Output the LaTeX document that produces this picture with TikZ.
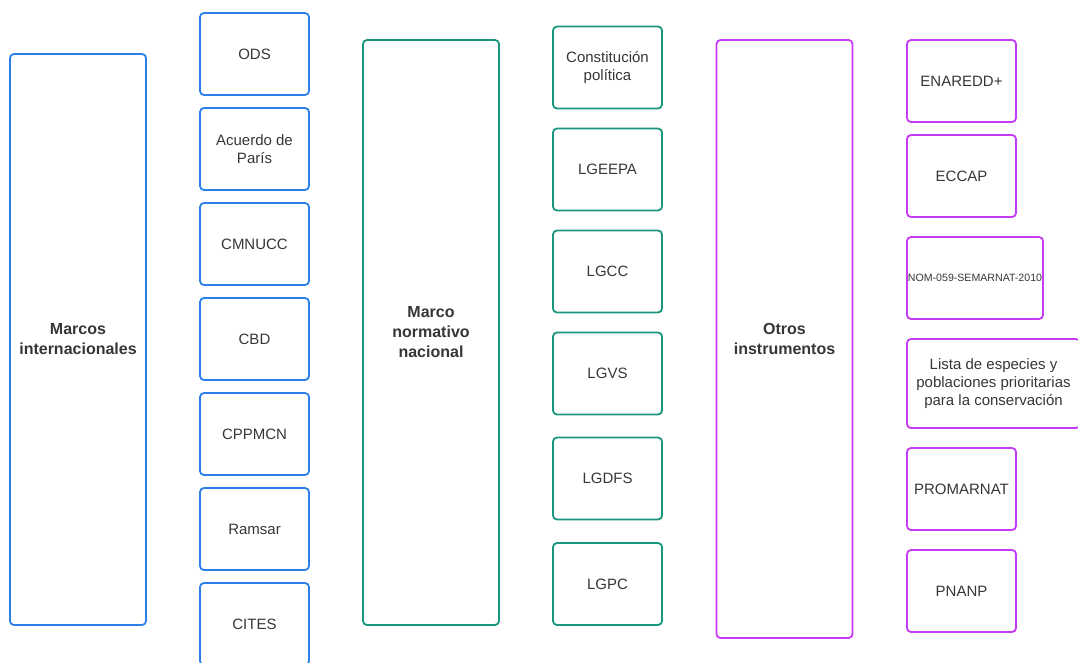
\documentclass[tikz,border=0pt]{standalone}
\usepackage{fontspec}
\setmainfont{Liberation Sans}
\usetikzlibrary{positioning}
\definecolor{Azul}{HTML}{2C7FE8}
\definecolor{Verde}{HTML}{1A957E}
\definecolor{Morado}{HTML}{C63AF7}
\definecolor{Texto}{HTML}{363636}

\tikzset{
  caja/.style={draw=#1,line width=1.8pt,rounded corners=4pt,align=center,
    text=Texto,font=\fontsize{15}{18}\selectfont,
    minimum width=109pt,minimum height=82pt,inner sep=1pt},
  grupo/.style={caja=#1,minimum width=136pt,font=\fontsize{16}{20}\selectfont\bfseries}
}

\begin{document}
\begin{tikzpicture}[x=1pt,y=-1pt]
  \path[use as bounding box,clip] (0,0) rectangle (1078,662);

  % marcos internacionales
  \node[grupo=Azul,minimum height=571pt] (inter) at (78,339.5) {Marcos\\internacionales};
  \foreach \i/\y/\t in {1/54/ODS,2/149/{Acuerdo de\\París},3/244/CMNUCC,4/339/CBD,
      5/434/CPPMCN,6/529/Ramsar,7/624/CITES} {
    \node[caja=Azul] (int\i) at (254.5,\y) {\t};
  }

  % marco normativo nacional
  \node[grupo=Verde,minimum height=585pt] (nac) at (431,332.5) {Marco\\normativo\\nacional};
  \foreach \i/\y/\t in {1/67.5/{Constitución\\política},2/169.5/LGEEPA,3/271.5/LGCC,
      4/373.5/LGVS,5/478.5/LGDFS,6/584/LGPC} {
    \node[caja=Verde] (nor\i) at (607.5,\y) {\t};
  }

  % otros instrumentos
  \node[grupo=Morado,minimum height=598pt] (otros) at (784.5,339) {Otros\\instrumentos};
  \node[caja=Morado] (ins1) at (961.5,81) {ENAREDD+};
  \node[caja=Morado] (ins2) at (961.5,176) {ECCAP};
  \node[caja=Morado,minimum width=136pt,font=\fontsize{10.6}{12}\selectfont] (ins3) at (975,278)
    {NOM-059-SEMARNAT-2010};
  \node[caja=Morado,minimum width=173pt,minimum height=89pt] (ins4) at (993.5,383.5)
    {Lista de especies y\\poblaciones prioritarias\\para la conservación};
  \node[caja=Morado] (ins5) at (961.5,489) {PROMARNAT};
  \node[caja=Morado] (ins6) at (961.5,591) {PNANP};
\end{tikzpicture}
\end{document}
